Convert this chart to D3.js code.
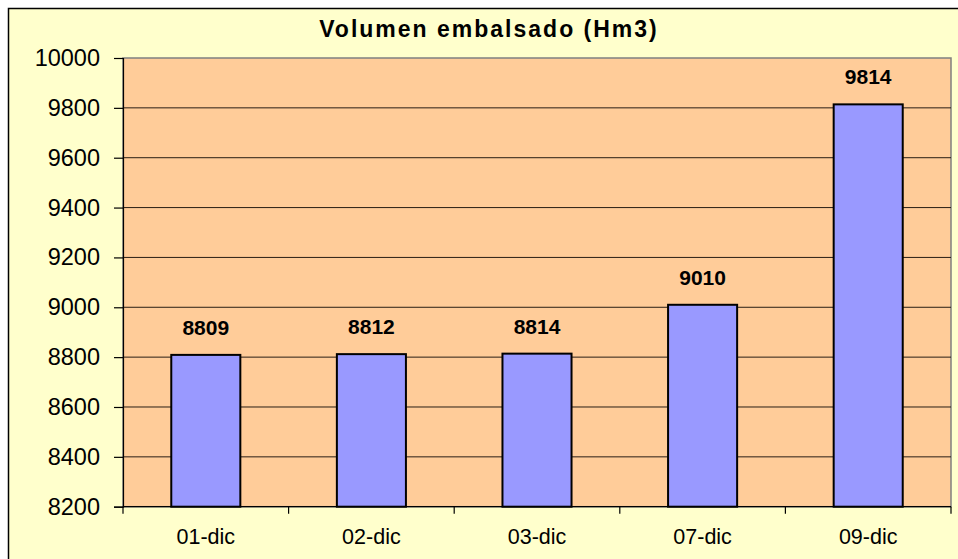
<!DOCTYPE html>
<html>
<head>
<meta charset="utf-8">
<script src="https://cdn.jsdelivr.net/npm/d3@7"></script>
<style>
  body { margin: 0; background: #ffffff; }
  svg { display: block; font-family: "Liberation Sans", Arial, sans-serif; }
</style>
</head>
<body>
<div id="chart"></div>
<script>
// data
var categories = ["01-dic", "02-dic", "03-dic", "07-dic", "09-dic"];
var volumes = [8809, 8812, 8814, 9010, 9814];
var yTicks = [8200, 8400, 8600, 8800, 9000, 9200, 9400, 9600, 9800, 10000];
var title = "Volumen embalsado (Hm3)";

var width = 958, height = 559;
var plot = { left: 123, right: 951, top: 58, bottom: 506.7 };

var svg = d3.select("#chart").append("svg")
    .attr("width", width)
    .attr("height", height);

// outer chart area (runs off the right/bottom edge)
svg.append("rect")
    .attr("x", 8.5)
    .attr("y", 8.5)
    .attr("width", width + 20)
    .attr("height", height + 20)
    .attr("fill", "#ffffcc")
    .attr("stroke", "#000")
    .attr("stroke-width", 1.5);

var x = d3.scaleBand()
    .domain(categories)
    .range([plot.left, plot.right])
    .paddingInner(0.583)
    .paddingOuter(0.2915);

var y = d3.scaleLinear()
    .domain([8200, 10000])
    .range([plot.bottom, plot.top]);

// plot area
svg.append("rect")
    .attr("x", plot.left)
    .attr("y", plot.top)
    .attr("width", plot.right - plot.left)
    .attr("height", plot.bottom - plot.top)
    .attr("fill", "#ffcc99")
    .attr("stroke", "#808080")
    .attr("stroke-width", 1.5);

// gridlines
svg.selectAll("line.grid")
    .data(yTicks.slice(1, -1))
    .enter().append("line")
    .attr("class", "grid")
    .attr("x1", plot.left)
    .attr("x2", plot.right)
    .attr("y1", function(d) { return y(d); })
    .attr("y2", function(d) { return y(d); })
    .attr("stroke", "#2a1e14")
    .attr("stroke-width", 1);

// y axis
var yAxis = svg.append("g")
    .attr("transform", "translate(" + plot.left + ",0)")
    .call(d3.axisLeft(y).tickValues(yTicks).tickSize(9).tickPadding(14).tickFormat(d3.format("d")));
yAxis.select(".domain").attr("stroke", "#000").attr("stroke-width", 1.2);
yAxis.selectAll(".tick line").attr("stroke", "#000").attr("stroke-width", 1.2);
yAxis.selectAll(".tick text")
    .attr("font-size", "23.5px")
    .attr("font-family", "Liberation Sans, Arial, sans-serif")
    .attr("fill", "#000");

// bars
svg.selectAll("rect.bar")
    .data(volumes)
    .enter().append("rect")
    .attr("class", "bar")
    .attr("x", function(d, i) { return x(categories[i]); })
    .attr("y", function(d) { return y(d); })
    .attr("width", x.bandwidth())
    .attr("height", function(d) { return plot.bottom - y(d); })
    .attr("fill", "#9999ff")
    .attr("stroke", "#000")
    .attr("stroke-width", 2);

// x axis line
svg.append("line")
    .attr("x1", plot.left)
    .attr("x2", plot.right)
    .attr("y1", plot.bottom)
    .attr("y2", plot.bottom)
    .attr("stroke", "#000")
    .attr("stroke-width", 1.2);

// category tick marks on the band edges
var edges = d3.range(categories.length + 1).map(function(i) { return plot.left + i * x.step(); });
svg.selectAll("line.ctick")
    .data(edges)
    .enter().append("line")
    .attr("class", "ctick")
    .attr("x1", function(d) { return d; })
    .attr("x2", function(d) { return d; })
    .attr("y1", plot.bottom)
    .attr("y2", plot.bottom + 7)
    .attr("stroke", "#000")
    .attr("stroke-width", 1.2);

// category labels
svg.selectAll("text.cat")
    .data(categories)
    .enter().append("text")
    .attr("class", "cat")
    .attr("x", function(d) { return x(d) + x.bandwidth() / 2; })
    .attr("y", 543.5)
    .attr("text-anchor", "middle")
    .attr("font-size", "21.5px")
    .text(function(d) { return d; });

// value labels
svg.selectAll("text.val")
    .data(volumes)
    .enter().append("text")
    .attr("class", "val")
    .attr("x", function(d, i) { return x(categories[i]) + x.bandwidth() / 2; })
    .attr("y", function(d) { return y(d) - 20; })
    .attr("text-anchor", "middle")
    .attr("font-size", "21px")
    .attr("font-weight", "bold")
    .text(function(d) { return d; });

// title
svg.append("text")
    .attr("x", 489)
    .attr("y", 36.5)
    .attr("text-anchor", "middle")
    .attr("font-size", "23px")
    .attr("font-weight", "bold")
    .attr("letter-spacing", "2px")
    .text(title);
</script>
</body>
</html>
